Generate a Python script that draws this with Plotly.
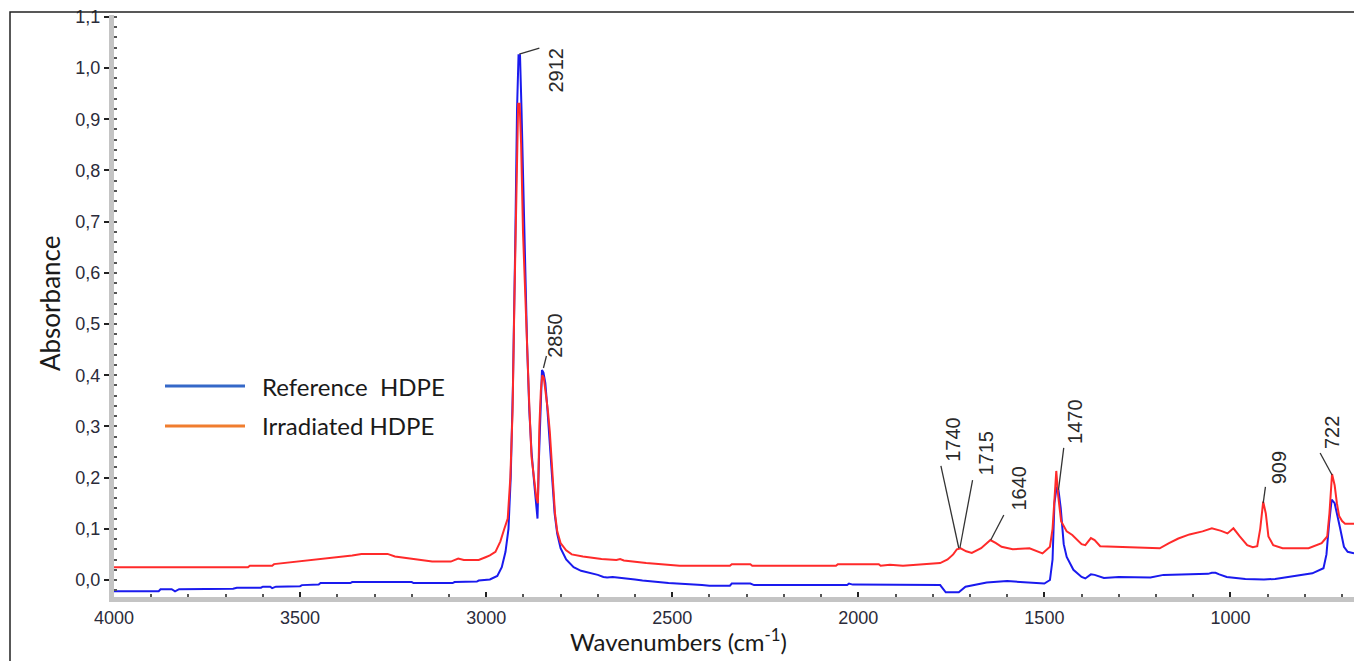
import plotly.graph_objects as go

# ---------------- data ----------------
ref_wn = [4000, 3880, 3875, 3845, 3836, 3825, 3680, 3670, 3605, 3600, 3580, 3575, 3565,
          3500, 3495, 3450, 3445, 3365, 3360, 3200, 3195, 3090, 3085, 3025, 3020, 2990,
          2970, 2958, 2948, 2940, 2934, 2928, 2922, 2917, 2913, 2909, 2905, 2900, 2895,
          2890, 2884, 2878, 2871, 2866, 2862, 2858, 2854, 2850, 2846, 2841, 2836, 2830,
          2823, 2816, 2809, 2800, 2785, 2765, 2745, 2725, 2700, 2685, 2675, 2660, 2630,
          2600, 2580, 2550, 2510, 2420, 2400, 2345, 2340, 2290, 2280, 2030, 2025, 2015,
          1780, 1765, 1730, 1712, 1690, 1655, 1600, 1565, 1500, 1485, 1478, 1473, 1467,
          1462, 1456, 1448, 1440, 1422, 1400, 1390, 1375, 1365, 1340, 1300, 1215, 1180,
          1060, 1050, 1040, 1030, 1010, 960, 910, 880, 840, 780, 750, 742, 735, 728, 720,
          712, 705, 695, 685, 668]
ref_abs = [-0.022, -0.022, -0.018, -0.018, -0.022, -0.018, -0.017, -0.015, -0.015, -0.013,
           -0.013, -0.016, -0.013, -0.012, -0.010, -0.009, -0.006, -0.006, -0.004, -0.004,
           -0.006, -0.006, -0.004, -0.003, -0.001, 0.001, 0.008, 0.025, 0.055, 0.10, 0.20,
           0.38, 0.65, 0.92, 1.025, 1.025, 0.92, 0.76, 0.60, 0.46, 0.33, 0.25, 0.19, 0.15,
           0.12, 0.24, 0.35, 0.41, 0.405, 0.385, 0.34, 0.28, 0.20, 0.13, 0.09, 0.062, 0.040,
           0.025, 0.018, 0.015, 0.010, 0.006, 0.005, 0.006, 0.004, 0.001, -0.001, -0.003,
           -0.006, -0.010, -0.011, -0.011, -0.007, -0.007, -0.010, -0.010, -0.007, -0.009,
           -0.010, -0.024, -0.024, -0.013, -0.010, -0.005, -0.002, -0.004, -0.007, 0.000,
           0.040, 0.150, 0.182, 0.175, 0.140, 0.070, 0.045, 0.020, 0.006, 0.003, 0.011,
           0.010, 0.004, 0.006, 0.005, 0.010, 0.012, 0.014, 0.014, 0.011, 0.006, 0.002,
           0.001, 0.002, 0.006, 0.013, 0.023, 0.050, 0.110, 0.157, 0.150, 0.125, 0.100,
           0.065, 0.055, 0.052]

irr_wn = [4000, 3640, 3635, 3575, 3570, 3530, 3495, 3460, 3410, 3360, 3335, 3265, 3245,
          3210, 3180, 3145, 3095, 3075, 3060, 3020, 3000, 2990, 2975, 2962, 2952, 2942,
          2935, 2929, 2924, 2919, 2914, 2910, 2906, 2901, 2895, 2890, 2884, 2878, 2871,
          2865, 2861, 2857, 2853, 2849, 2845, 2840, 2834, 2829, 2822, 2815, 2809, 2800,
          2785, 2770, 2740, 2710, 2690, 2650, 2640, 2630, 2570, 2480, 2345, 2340, 2290,
          2285, 2060, 2055, 1945, 1940, 1915, 1880, 1835, 1780, 1760, 1745, 1735, 1725,
          1710, 1695, 1670, 1645, 1630, 1615, 1585, 1540, 1505, 1485, 1478, 1473, 1468,
          1463, 1455, 1440, 1425, 1400, 1390, 1375, 1365, 1350, 1295, 1190, 1165, 1140,
          1110, 1075, 1050, 1025, 1008, 992, 975, 955, 940, 928, 920, 912, 905, 898, 885,
          860, 790, 755, 740, 734, 727, 720, 714, 708, 700, 692, 668]
irr_abs = [0.025, 0.025, 0.028, 0.028, 0.031, 0.034, 0.037, 0.040, 0.044, 0.048, 0.051,
           0.051, 0.046, 0.043, 0.039, 0.036, 0.036, 0.042, 0.039, 0.039, 0.045, 0.048,
           0.055, 0.075, 0.098, 0.12, 0.20, 0.33, 0.55, 0.78, 0.93, 0.93, 0.85, 0.68, 0.55,
           0.44, 0.34, 0.24, 0.195, 0.16, 0.15, 0.30, 0.37, 0.40, 0.395, 0.37, 0.33, 0.29,
           0.20, 0.13, 0.095, 0.072, 0.058, 0.050, 0.046, 0.043, 0.041, 0.039, 0.041, 0.038,
           0.033, 0.028, 0.028, 0.031, 0.031, 0.028, 0.028, 0.031, 0.031, 0.028, 0.030,
           0.028, 0.030, 0.033, 0.040, 0.050, 0.060, 0.062, 0.056, 0.053, 0.062, 0.078,
           0.072, 0.065, 0.060, 0.062, 0.052, 0.065, 0.10, 0.16, 0.213, 0.165, 0.115, 0.095,
           0.088, 0.070, 0.068, 0.082, 0.078, 0.066, 0.065, 0.062, 0.072, 0.081, 0.089,
           0.095, 0.101, 0.096, 0.091, 0.101, 0.085, 0.068, 0.064, 0.066, 0.10, 0.153, 0.13,
           0.085, 0.068, 0.062, 0.062, 0.072, 0.085, 0.13, 0.207, 0.185, 0.15, 0.125, 0.115,
           0.110, 0.110]

y_tick_vals = [0.0, 0.1, 0.2, 0.3, 0.4, 0.5, 0.6, 0.7, 0.8, 0.9, 1.0, 1.1]
y_tick_text = ["0,0", "0,1", "0,2", "0,3", "0,4", "0,5", "0,6", "0,7", "0,8", "0,9", "1,0", "1,1"]
x_tick_vals = [4000, 3500, 3000, 2500, 2000, 1500, 1000]
x_tick_text = ["4000", "3500", "3000", "2500", "2000", "1500", "1000"]

series_names = ["Reference  HDPE", "Irradiated HDPE"]

# peak labels: text, text position (wn, abs), leader line start -> end (wn, abs)
peak_labels = ["2912", "2850", "1740", "1715", "1640", "1470", "909", "722"]
peak_text_wn = [2811, 2815, 1744, 1658, 1569, 1416, 871, 727]
peak_text_abs = [0.996, 0.477, 0.275, 0.248, 0.180, 0.31, 0.219, 0.287]
peak_line_wn0 = [2911, 2846, 1778, 1693, 1609, 1448, 906, 759]
peak_line_abs0 = [1.027, 0.414, 0.223, 0.195, 0.127, 0.258, 0.182, 0.248]
peak_line_wn1 = [2857, 2838, 1730, 1727, 1644, 1462, 912, 727]
peak_line_abs1 = [1.039, 0.4375, 0.0625, 0.0625, 0.078, 0.176, 0.150, 0.205]

# ---------------- layout helpers (pixel -> paper) ----------------
W, H = 1354, 661
L, R, T, B = 114, 0, 15, 64
PW, PH = W - L - R, H - T - B


def px(x):
    return (x - L) / PW


def py(y):
    return (H - B - y) / PH


fig = go.Figure()
fig.add_trace(go.Scatter(x=ref_wn, y=ref_abs, mode="lines", name=series_names[0],
                         line=dict(color="#1a1aee", width=2), showlegend=False))
fig.add_trace(go.Scatter(x=irr_wn, y=irr_abs, mode="lines", name=series_names[1],
                         line=dict(color="#ff2a2a", width=2), showlegend=False))

shapes = []
annotations = []
for i, lab in enumerate(peak_labels):
    shapes.append(dict(type="line", xref="x", yref="y",
                       x0=peak_line_wn0[i], y0=peak_line_abs0[i],
                       x1=peak_line_wn1[i], y1=peak_line_abs1[i],
                       line=dict(color="#333333", width=1.3)))
    annotations.append(dict(x=peak_text_wn[i], y=peak_text_abs[i], xref="x", yref="y",
                            text=lab, textangle=-90, showarrow=False,
                            font=dict(family="Liberation Sans, Arial", size=20, color="#2a2a2a"),
                            xanchor="center", yanchor="middle"))

# legend (drawn manually to match the reference)
legend_colors = ["#3568c8", "#f07d2e"]
legend_y = [386, 426]
for i in range(2):
    shapes.append(dict(type="line", xref="paper", yref="paper",
                       x0=px(165), x1=px(245), y0=py(legend_y[i]), y1=py(legend_y[i]),
                       line=dict(color=legend_colors[i], width=3)))
    annotations.append(dict(x=px(260), y=py(legend_y[i]), xref="paper", yref="paper",
                            text=series_names[i], showarrow=False, xanchor="left",
                            yanchor="middle",
                            font=dict(family="Lato, Carlito, sans-serif", size=24, color="#1a1a1a")))

# axis titles
annotations.append(dict(x=px(50), y=py(304), xref="paper", yref="paper", text="Absorbance",
                        textangle=-90, showarrow=False, xanchor="center", yanchor="middle",
                        font=dict(family="Lato, Carlito, sans-serif", size=26, color="#1a1a1a")))
annotations.append(dict(x=px(678), y=py(640), xref="paper", yref="paper",
                        text="Wavenumbers (cm<sup>-1</sup>)", showarrow=False,
                        xanchor="center", yanchor="middle",
                        font=dict(family="Lato, Carlito, sans-serif", size=24, color="#1a1a1a")))

# outer frame
shapes.append(dict(type="rect", xref="paper", yref="paper",
                   x0=px(10), x1=px(1400), y0=py(700), y1=py(12),
                   line=dict(color="#222222", width=1.5), fillcolor="rgba(0,0,0,0)",
                   layer="above"))

fig.update_layout(
    width=W, height=H,
    margin=dict(l=L, r=R, t=T, b=B),
    paper_bgcolor="white", plot_bgcolor="white",
    shapes=shapes, annotations=annotations,
    showlegend=False,
)
fig.update_xaxes(
    range=[4000, 668], showgrid=False, zeroline=False,
    showline=True, linecolor="#c4c4c4", linewidth=5,
    tickvals=x_tick_vals, ticktext=x_tick_text,
    ticks="inside", ticklen=5, tickwidth=2, tickcolor="#222222",
    minor=dict(dtick=100, ticks="inside", ticklen=3, tickwidth=1.5, tickcolor="#555555"),
    tickfont=dict(family="Liberation Sans, Arial", size=18, color="#2b2b3a"),
)
fig.update_yaxes(
    range=[-0.0332, 1.1035], showgrid=False, zeroline=False,
    showline=True, linecolor="#c4c4c4", linewidth=5,
    tickvals=y_tick_vals, ticktext=y_tick_text,
    ticks="outside", ticklen=5, tickwidth=2, tickcolor="#222222",
    minor=dict(dtick=0.02, ticks="inside", ticklen=3, tickwidth=1.5, tickcolor="#555555"),
    tickfont=dict(family="Liberation Sans, Arial", size=18, color="#2b2b3a"),
)

fig.write_html("out.html")
